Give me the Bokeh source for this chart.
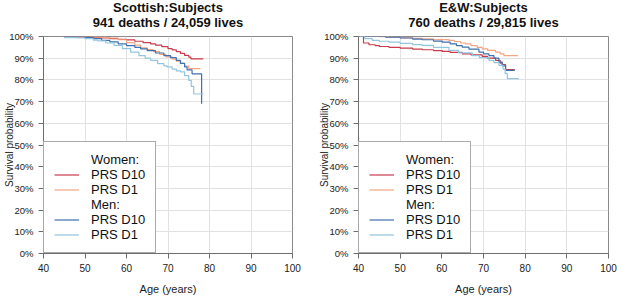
from bokeh.plotting import figure
from bokeh.layouts import row, column
from bokeh.models import (Range1d, FixedTicker, NumeralTickFormatter, Legend, LegendItem)
from bokeh.core.properties import value
from bokeh.embed import file_html
from bokeh.resources import INLINE

# ---------------- data ----------------
# Scottish: Subjects
sc_w_d10_age = [45.0, 48.0, 50.0, 52.0, 54.0, 56.0, 58.0, 60.0, 62.0, 64.0, 65.8, 67.0, 68.5, 70.0, 71.0, 72.0, 73.0, 74.0, 75.0, 75.5, 78.5]
sc_w_d10_s   = [1.000, 0.998, 0.996, 0.995, 0.993, 0.990, 0.987, 0.984, 0.978, 0.972, 0.966, 0.960, 0.953, 0.944, 0.938, 0.930, 0.922, 0.913, 0.905, 0.897, 0.897]
sc_w_d1_age  = [45.0, 50.0, 55.0, 58.0, 60.0, 62.0, 63.4, 65.0, 66.5, 68.0, 69.5, 71.0, 72.0, 73.0, 74.0, 75.0, 77.8]
sc_w_d1_s    = [1.000, 0.997, 0.993, 0.985, 0.972, 0.960, 0.948, 0.940, 0.930, 0.918, 0.906, 0.896, 0.886, 0.876, 0.864, 0.852, 0.852]
sc_m_d10_age = [45.0, 50.0, 52.0, 54.0, 56.0, 58.0, 60.0, 62.0, 63.4, 65.0, 67.0, 69.0, 70.6, 72.0, 73.0, 74.0, 74.6, 75.8, 78.1]
sc_m_d10_s   = [1.000, 0.995, 0.990, 0.982, 0.975, 0.966, 0.958, 0.950, 0.943, 0.935, 0.924, 0.912, 0.903, 0.890, 0.876, 0.860, 0.846, 0.828, 0.690]
sc_m_d1_age  = [44.9, 48.0, 50.0, 52.0, 53.0, 55.0, 57.0, 59.0, 61.0, 63.0, 64.5, 65.8, 67.5, 69.0, 69.8, 71.0, 72.0, 73.0, 74.0, 75.0, 75.6, 76.2, 78.5]
sc_m_d1_s    = [0.995, 0.993, 0.990, 0.983, 0.980, 0.970, 0.959, 0.944, 0.928, 0.912, 0.900, 0.890, 0.875, 0.865, 0.860, 0.850, 0.842, 0.837, 0.820, 0.798, 0.770, 0.735, 0.735]

# E&W: Subjects
ew_w_d10_age = [40.5, 41.2, 42.5, 44.0, 45.0, 47.3, 50.0, 53.0, 55.3, 58.0, 60.1, 62.0, 64.9, 67.0, 69.7, 71.0, 72.9, 74.0, 74.5, 75.3, 77.5]
ew_w_d10_s   = [1.000, 0.970, 0.962, 0.958, 0.954, 0.950, 0.946, 0.942, 0.939, 0.935, 0.931, 0.927, 0.920, 0.915, 0.908, 0.900, 0.890, 0.877, 0.870, 0.847, 0.847]
ew_w_d1_age  = [40.3, 45.0, 47.3, 50.0, 53.0, 55.3, 58.0, 61.7, 63.0, 64.5, 65.7, 67.0, 68.5, 69.7, 71.0, 72.9, 74.0, 74.9, 78.3]
ew_w_d1_s    = [1.000, 0.999, 0.997, 0.994, 0.991, 0.989, 0.986, 0.982, 0.977, 0.970, 0.966, 0.958, 0.950, 0.943, 0.936, 0.928, 0.920, 0.912, 0.912]
ew_m_d10_age = [40.5, 46.5, 50.0, 53.0, 55.3, 58.0, 60.1, 62.0, 63.5, 64.9, 66.5, 68.9, 70.0, 71.3, 72.5, 73.7, 74.5, 75.3, 77.5]
ew_m_d10_s   = [1.000, 0.997, 0.993, 0.988, 0.985, 0.979, 0.974, 0.966, 0.958, 0.951, 0.942, 0.928, 0.920, 0.912, 0.900, 0.882, 0.865, 0.844, 0.844]
ew_m_d1_age  = [40.3, 41.5, 43.3, 45.0, 47.3, 50.0, 53.0, 55.3, 58.0, 61.7, 64.0, 67.3, 69.0, 71.3, 72.5, 73.7, 74.7, 75.2, 75.7, 78.5]
ew_m_d1_s    = [1.000, 0.990, 0.982, 0.978, 0.974, 0.968, 0.963, 0.959, 0.950, 0.936, 0.925, 0.912, 0.903, 0.890, 0.880, 0.867, 0.850, 0.830, 0.806, 0.806]

title_line1 = ["Scottish:Subjects", "E&W:Subjects"]
title_line2 = ["941 deaths / 24,059 lives", "760 deaths / 29,815 lives"]
x_ticks = [40, 50, 60, 70, 80, 90, 100]
y_ticks = [0.0, 0.1, 0.2, 0.3, 0.4, 0.5, 0.6, 0.7, 0.8, 0.9, 1.0]
legend_labels = ["Women:", "PRS D10", "PRS D1", "Men:", "PRS D10", "PRS D1"]

COL_W10 = "#C93B4B"
COL_W1 = "#F4A582"
COL_M10 = "#3F70B0"
COL_M1 = "#92C5DE"
FONT = "Liberation Sans"

# ---------------- title strip (screen-like coordinates) ----------------
TITLE_H = 30
tp = figure(width=617, height=TITLE_H, output_backend="svg", toolbar_location=None,
            x_range=Range1d(0, 617), y_range=Range1d(0, TITLE_H),
            x_axis_type=None, y_axis_type=None, min_border=0)
tp.title = None
tp.outline_line_color = None
tp.xgrid.visible = False
tp.ygrid.visible = False
centers = [167.5, 483.0]
tp.text(x=centers * 2, y=[TITLE_H - 6.5] * 2 + [TITLE_H - 22.0] * 2,
        text=title_line1 + title_line2,
        text_font=value(FONT), text_font_size="13px", text_font_style="bold",
        text_align="center", text_baseline="middle", text_color="#111111")


def make_panel(series, width, border_right):
    p = figure(width=width, height=297 - TITLE_H, output_backend="svg", toolbar_location=None,
               x_range=Range1d(40, 100), y_range=Range1d(0, 1),
               min_border_left=43, min_border_right=border_right,
               min_border_top=36 - TITLE_H, min_border_bottom=44)
    p.title = None
    p.background_fill_color = "white"
    p.border_fill_color = "white"
    p.outline_line_color = "#8a8a8a"
    p.outline_line_width = 1

    # axes
    p.xaxis.ticker = FixedTicker(ticks=x_ticks)
    p.yaxis.ticker = FixedTicker(ticks=y_ticks)
    p.yaxis.formatter = NumeralTickFormatter(format="0%")
    for ax in (p.xaxis[0], p.yaxis[0]):
        ax.axis_line_color = "#6e6e6e"
        ax.major_tick_line_color = "#6e6e6e"
        ax.major_tick_out = 5
        ax.major_tick_in = 0
        ax.minor_tick_line_color = None
        ax.major_label_text_font = FONT
        ax.major_label_text_color = "#222222"
        ax.axis_label_text_font = FONT
        ax.axis_label_text_font_style = "normal"
        ax.axis_label_text_color = "#222222"
    p.xaxis.major_label_text_font_size = "10px"
    p.yaxis.major_label_text_font_size = "9.5px"
    p.xaxis.axis_label = "Age (years)"
    p.xaxis.axis_label_text_font_size = "11px"
    p.xaxis.major_label_standoff = 5
    p.xaxis.axis_label_standoff = 8
    p.yaxis.axis_label = "Survival probability"
    p.yaxis.axis_label_text_font_size = "10px"
    p.yaxis.major_label_standoff = 5
    p.yaxis.axis_label_standoff = -9

    p.xgrid.grid_line_color = "#e2e2e2"
    p.ygrid.grid_line_color = "#e2e2e2"

    renderers = []
    for (xs, ys, col) in series:
        r = p.step(xs, ys, mode="after", line_color=col, line_width=1.2)
        renderers.append(r)
    blank1 = p.line(x=[], y=[], line_alpha=0)
    blank2 = p.line(x=[], y=[], line_alpha=0)

    order = [blank1, renderers[0], renderers[1], blank2, renderers[2], renderers[3]]
    items = [LegendItem(label=lab, renderers=[rr]) for lab, rr in zip(legend_labels, order)]
    legend = Legend(items=items, location=(0, 0), margin=0, padding=10, spacing=0,
                    glyph_width=25, glyph_height=15, label_height=15, label_standoff=12,
                    label_text_font=FONT, label_text_font_size="13px",
                    label_text_color="#111111",
                    border_line_color="#555555", border_line_width=1,
                    background_fill_color="white", background_fill_alpha=1.0)
    p.add_layout(legend, "center")
    return p


p1 = make_panel([(sc_w_d10_age, sc_w_d10_s, COL_W10), (sc_w_d1_age, sc_w_d1_s, COL_W1),
                 (sc_m_d10_age, sc_m_d10_s, COL_M10), (sc_m_d1_age, sc_m_d1_s, COL_M1)],
                315, 23)
p2 = make_panel([(ew_w_d10_age, ew_w_d10_s, COL_W10), (ew_w_d1_age, ew_w_d1_s, COL_W1),
                 (ew_m_d10_age, ew_m_d10_s, COL_M10), (ew_m_d1_age, ew_m_d1_s, COL_M1)],
                302, 9)

layout = column(tp, row(p1, p2))
open("out.html", "w").write(file_html(layout, INLINE))
